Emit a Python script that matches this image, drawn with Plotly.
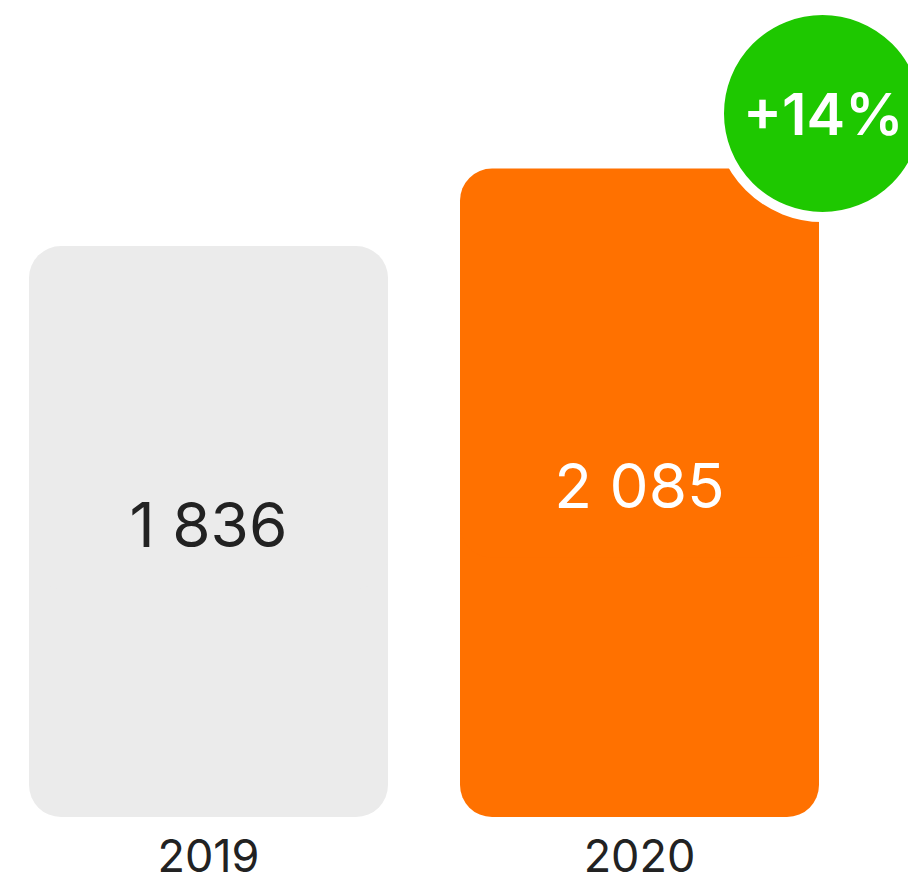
import plotly.graph_objects as go

years = ["2019", "2020"]
values = [1836, 2085]
bar_colors = ["#ebebeb", "#ff7100"]
text_colors = ["#222222", "#ffffff"]
growth_label = "+14%"

xs = list(range(len(years)))
lower_len = [v * 0.6 for v in values]
upper_base = [v * 0.4 for v in values]
upper_len = [v * 0.6 for v in values]

FONT = "Inter, Roboto, Noto Sans, sans-serif"
SPACING = 431.0
BAR_W = 359 / SPACING

fig = go.Figure()
# lower half (rounded at bottom)
fig.add_trace(go.Bar(x=xs, y=[-l for l in lower_len], base=lower_len, width=BAR_W,
                     marker=dict(color=bar_colors, line=dict(width=0)), hoverinfo="skip"))
# upper half (rounded at top)
fig.add_trace(go.Bar(x=xs, y=upper_len, base=upper_base, width=BAR_W,
                     marker=dict(color=bar_colors, line=dict(width=0)), hoverinfo="skip"))
# value labels
fig.add_trace(go.Scatter(x=xs, y=[v / 2 for v in values], mode="text",
                         text=[f"{v:,}".replace(",", " ") for v in values],
                         textfont=dict(family=FONT, size=62, color=text_colors),
                         textposition="middle center", hoverinfo="skip"))

px_per_unit = 571 / values[0]
y_max = 817 / px_per_unit
x_left = -208.5 / SPACING
x_right = (908 - 208.5) / SPACING

# growth badge anchored near top-right of last bar
badge_x = (822.5 - 208.5) / SPACING
badge_y = (817 - 113.5) / px_per_unit
r = 103.5
fig.add_shape(type="circle", xref="x", yref="y", xsizemode="pixel", ysizemode="pixel",
              xanchor=badge_x, yanchor=badge_y, x0=-r, x1=r, y0=-r, y1=r,
              fillcolor="#1ec800", line=dict(color="#ffffff", width=10), layer="above")
fig.add_annotation(x=badge_x, y=badge_y, xref="x", yref="y", text=growth_label,
                   showarrow=False, font=dict(family=FONT, size=58, color="#ffffff", weight=600),
                   xanchor="center", yanchor="middle")

fig.update_layout(
    width=908, height=882,
    margin=dict(l=0, r=0, t=0, b=65, autoexpand=False),
    paper_bgcolor="#ffffff", plot_bgcolor="#ffffff",
    barmode="overlay", barcornerradius=32,
    showlegend=False,
    xaxis=dict(range=[x_left, x_right], tickvals=xs, ticktext=years, showgrid=False,
               zeroline=False, showline=False, ticks="", ticklabelstandoff=9, automargin=False,
               tickfont=dict(family=FONT, size=45, color="#222222"), fixedrange=True),
    yaxis=dict(range=[0, y_max], visible=False, showgrid=False, zeroline=False,
               automargin=False, fixedrange=True),
)

fig.write_html("out.html", config={"displayModeBar": False},
               post_script="document.body.style.margin='0';document.body.style.overflow='hidden';")
